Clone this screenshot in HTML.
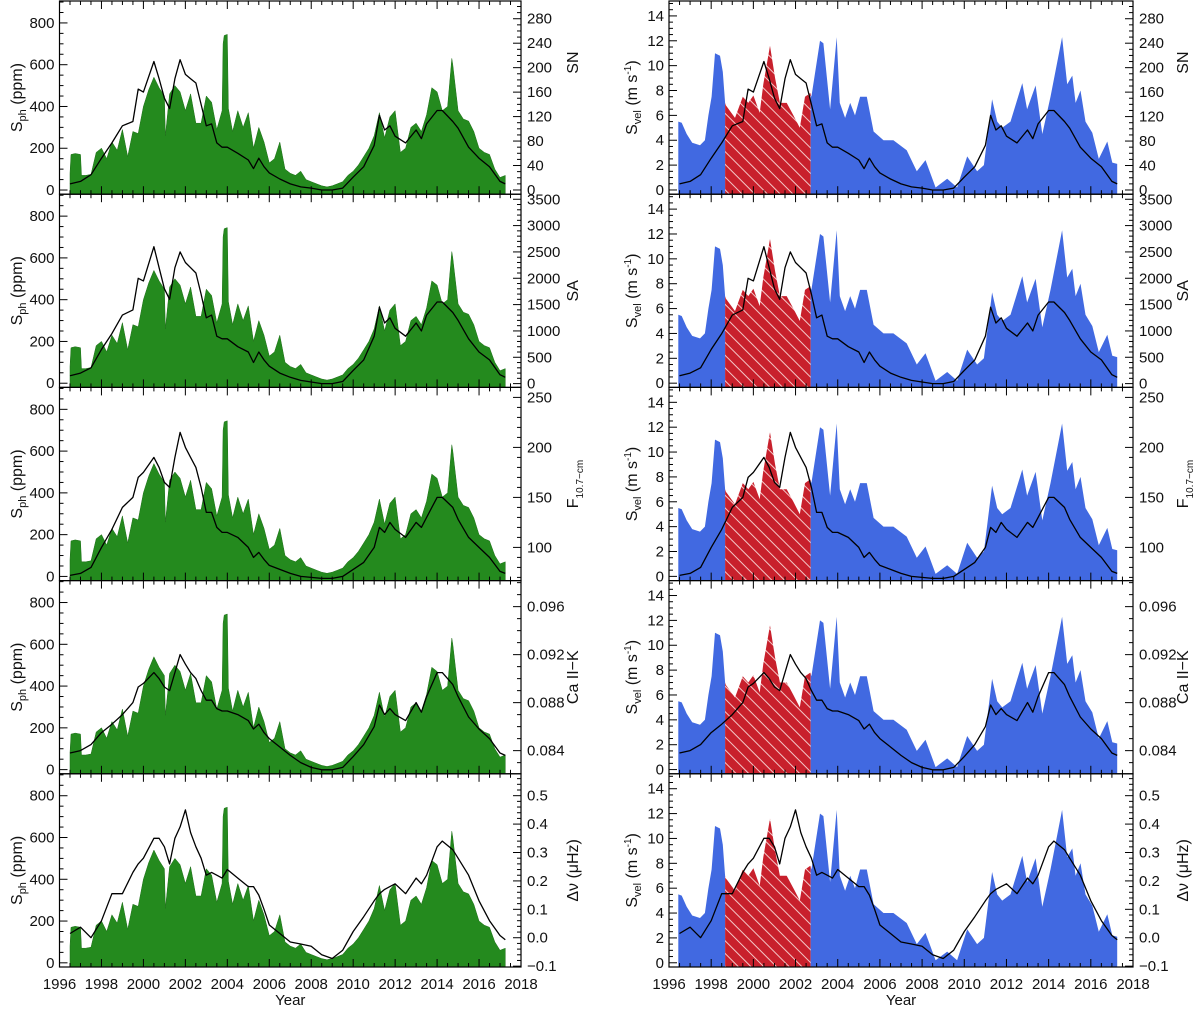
<!DOCTYPE html>
<html><head><meta charset="utf-8"><style>
html,body{margin:0;padding:0;background:#fff}
svg{display:block}
text{font-family:"Liberation Sans",sans-serif;fill:#111}
</style></head><body>
<svg id="fig" width="1200" height="1009" viewBox="0 0 1200 1009" xmlns="http://www.w3.org/2000/svg">
<defs>
<pattern id="hatch" patternUnits="userSpaceOnUse" width="9" height="9" patternTransform="rotate(-45)">
<rect width="9" height="9" fill="#c8202c"/>
<line x1="0" y1="0" x2="0" y2="9" stroke="#f4c8c8" stroke-width="2"/>
</pattern>
</defs>
</svg>
<script>
// ---- data ----
const greenYears=[1996.5,1996.55,1996.75,1997.0,1997.05,1997.25,1997.5,1997.75,1998.0,1998.25,1998.5,1998.75,1999.0,1999.25,1999.5,1999.75,2000.0,2000.25,2000.5,2000.75,2001.0,2001.05,2001.25,2001.5,2001.75,2002.0,2002.25,2002.5,2002.75,2003.0,2003.25,2003.5,2003.75,2003.8,2003.85,2004.0,2004.05,2004.25,2004.5,2004.75,2005.0,2005.25,2005.5,2005.75,2006.0,2006.25,2006.5,2006.75,2007.0,2007.25,2007.5,2007.75,2008.0,2008.25,2008.5,2008.75,2009.0,2009.25,2009.5,2009.75,2010.0,2010.25,2010.5,2010.75,2011.0,2011.25,2011.5,2011.75,2012.0,2012.25,2012.5,2012.75,2013.0,2013.25,2013.5,2013.75,2014.0,2014.25,2014.5,2014.7,2014.75,2015.0,2015.25,2015.5,2015.75,2016.0,2016.25,2016.5,2016.75,2017.0,2017.25];
const greenVals=[80,170,175,170,70,70,75,180,200,150,230,190,290,160,280,270,400,480,540,490,450,260,460,500,470,380,460,320,320,450,420,290,380,700,740,745,390,280,380,300,370,200,300,230,130,150,230,100,80,70,90,50,40,30,20,15,20,30,40,70,90,120,160,200,260,370,250,350,380,180,200,300,320,280,360,490,470,380,400,630,600,380,340,330,280,200,180,170,100,60,70];
const blueYears=[1996.44,1996.6,1996.84,1997.1,1997.47,1997.7,1997.87,1998.02,1998.18,1998.42,1998.55,1998.66,1998.7,1999.13,1999.5,1999.76,2000.0,2000.3,2000.47,2000.79,2001.03,2001.26,2001.58,2001.9,2002.2,2002.45,2002.7,2002.75,2003.16,2003.32,2003.64,2003.95,2004.1,2004.35,2004.59,2004.82,2005.06,2005.38,2005.7,2006.17,2006.64,2007.27,2007.75,2008.16,2008.64,2009.19,2009.66,2010.14,2010.61,2010.93,2011.32,2011.56,2011.8,2012.19,2012.75,2012.98,2013.38,2013.7,2014.09,2014.64,2014.88,2015.12,2015.28,2015.51,2015.75,2016.07,2016.38,2016.78,2017.02,2017.25];
const blueVals=[5.5,5.4,4.5,3.8,3.6,4.0,6.0,7.5,11.0,10.8,9.5,7.0,6.8,5.8,7.5,7.0,7.6,6.2,8.5,11.6,9.0,7.0,7.0,6.0,5.0,7.5,7.8,7.5,12.0,11.8,6.5,12.3,7.0,5.8,7.0,6.0,7.5,7.5,4.7,4.0,4.0,3.2,1.5,2.4,0.2,0.9,0.2,2.7,1.5,2.0,7.3,5.5,5.0,5.5,8.6,6.5,8.4,4.5,7.5,12.3,8.5,9.2,7.0,8.0,5.5,4.6,2.5,3.9,2.2,2.1];
const hatchStart=1998.66, hatchEnd=2002.72;
const proxyYears=[1996.5,1997,1997.5,1998,1998.5,1999,1999.5,1999.75,2000,2000.5,2000.75,2001,2001.25,2001.5,2001.75,2002,2002.25,2002.5,2002.75,2003,2003.25,2003.5,2003.75,2004,2004.5,2005,2005.25,2005.5,2005.75,2006,2006.5,2007,2007.5,2008,2008.5,2009,2009.5,2010,2010.5,2011,2011.25,2011.5,2011.75,2012,2012.5,2013,2013.25,2013.5,2014,2014.25,2014.75,2015,2015.5,2016,2016.5,2017,2017.25];
const snVals=[10,14,25,52,77,105,112,165,160,210,182,150,133,182,213,189,182,175,140,105,108,77,70,70,60,49,35,52,38,28,18,10,5,3,0,0,3,21,38,73,122,98,105,88,77,98,84,108,130,130,112,101,70,52,38,14,10];
const saVals=[150,200,300,650,950,1300,1400,2000,1950,2600,2200,1800,1600,2200,2500,2300,2200,2100,1700,1250,1300,900,850,850,700,600,400,600,450,330,200,120,60,30,0,0,40,250,450,900,1450,1150,1250,1050,900,1150,1000,1300,1550,1550,1350,1200,850,600,450,170,120];
const f107Vals=[72,74,80,100,118,140,150,170,175,190,180,165,160,190,215,200,190,180,160,135,135,120,115,115,110,100,90,95,88,82,78,74,71,70,69,69,71,78,85,100,120,115,125,118,110,125,120,130,150,150,140,128,110,100,90,76,74];
const caVals=[0.0838,0.0840,0.0845,0.0855,0.0862,0.0870,0.0880,0.0893,0.0896,0.0905,0.0900,0.0893,0.0890,0.0905,0.0920,0.0912,0.0905,0.0900,0.0890,0.0882,0.0882,0.0875,0.0873,0.0873,0.0870,0.0865,0.0858,0.0862,0.0855,0.0850,0.0843,0.0836,0.0830,0.0826,0.0824,0.0824,0.0826,0.0835,0.0845,0.0860,0.0878,0.0870,0.0875,0.0870,0.0865,0.0880,0.0872,0.0885,0.0905,0.0905,0.0895,0.0885,0.0868,0.0858,0.0850,0.0838,0.0836];
const dnuVals=[0.015,0.037,0.0,0.06,0.155,0.155,0.23,0.26,0.28,0.35,0.35,0.32,0.26,0.35,0.39,0.45,0.37,0.32,0.28,0.22,0.23,0.22,0.21,0.24,0.21,0.18,0.18,0.15,0.10,0.045,0.015,-0.015,-0.022,-0.03,-0.06,-0.073,-0.044,0.022,0.074,0.13,0.155,0.17,0.18,0.19,0.155,0.21,0.19,0.22,0.32,0.34,0.31,0.28,0.22,0.13,0.06,0.008,-0.007];
const xTickLabels=[1996,1998,2000,2002,2004,2006,2008,2010,2012,2014,2016,2018];
const leftTicks=[0,200,400,600,800];
const velTicks=[0,2,4,6,8,10,12,14];

const proxies=[
 {name:'sn',vals:snVals,lo:-6.9,hi:309,major:[0,40,80,120,160,200,240,280],minor:10,fmt:v=>String(v),title:'SN'},
 {name:'sa',vals:saVals,lo:-72,hi:3596,major:[0,500,1000,1500,2000,2500,3000,3500],minor:100,fmt:v=>String(v),title:'SA'},
 {name:'f107',vals:f107Vals,lo:66.8,hi:260,major:[100,150,200,250],minor:10,fmt:v=>String(v),title:'F107'},
 {name:'caiik',vals:caVals,lo:0.08207,hi:0.09817,major:[0.084,0.088,0.092,0.096],minor:0.001,fmt:v=>v.toFixed(3),title:'Ca II\u2212K'},
 {name:'delta-nu',vals:dnuVals,lo:-0.103,hi:0.577,major:[-0.1,0,0.1,0.2,0.3,0.4,0.5],minor:0.02,fmt:v=>(v<0?'\u2212':'')+Math.abs(v).toFixed(1),title:'DNU'}
];

const NS='http://www.w3.org/2000/svg';
const svg=document.getElementById('fig');
function mk(tag,attrs,parent){const e=document.createElementNS(NS,tag);for(const k in attrs)e.setAttribute(k,attrs[k]);(parent||svg).appendChild(e);return e;}

const cols=[{x0:59.5,x1:521,side:'left'},{x0:669,x1:1133,side:'right'}];
const PH=193.2;
function xs(col,y){return col.x0+(y-1996)/22*(col.x1-col.x0);}
function lin(v,lo,hi,top){return top+PH-(v-lo)/(hi-lo)*PH;}

function areaPath(col,top,years,vals,lo,hi,from,to){
  let pts=[];
  for(let i=0;i<years.length;i++){ if(years[i]>=from-1e-9&&years[i]<=to+1e-9) pts.push([years[i],vals[i]]);}
  function interp(t){for(let i=0;i<years.length-1;i++){if(t>=years[i]&&t<=years[i+1]){const f=(t-years[i])/(years[i+1]-years[i]);return vals[i]+f*(vals[i+1]-vals[i]);}}return vals[0];}
  if(from>years[0]&&(pts.length===0||pts[0][0]>from)) pts.unshift([from,interp(from)]);
  if(to<years[years.length-1]&&(pts.length===0||pts[pts.length-1][0]<to)) pts.push([to,interp(to)]);
  const base=top+PH;
  let d='M'+xs(col,pts[0][0]).toFixed(1)+','+base;
  for(const p of pts) d+='L'+xs(col,p[0]).toFixed(1)+','+lin(p[1],lo,hi,top).toFixed(1);
  d+='L'+xs(col,pts[pts.length-1][0]).toFixed(1)+','+base+'Z';
  return d;
}

for(let c=0;c<2;c++){
  const col=cols[c];
  for(let p=0;p<5;p++){
    const top=1+p*PH;
    const pr=proxies[p];
    const g=mk('g',{});
    
    
    const cid='clip'+c+p;
    const cp=mk('clipPath',{id:cid},g);
    mk('rect',{x:col.x0,y:top,width:col.x1-col.x0,height:PH},cp);
    if(c===0){
      const a=mk('path',{d:areaPath(col,top,greenYears,greenVals,-20,905,greenYears[0],greenYears[greenYears.length-1]),fill:'#248a1e',stroke:'#1d6e18','stroke-width':0.5,'clip-path':'url(#'+cid+')'},g);
      
      
    } else {
      const lo=-0.34,hi=15.2;
      const a1=mk('path',{d:areaPath(col,top,blueYears,blueVals,lo,hi,blueYears[0],hatchStart),fill:'#4169e1','clip-path':'url(#'+cid+')'},g);
      
      
      const a2=mk('path',{d:areaPath(col,top,blueYears,blueVals,lo,hi,hatchStart,hatchEnd),fill:'url(#hatch)','clip-path':'url(#'+cid+')'},g);
      
      
      const a3=mk('path',{d:areaPath(col,top,blueYears,blueVals,lo,hi,hatchEnd,blueYears[blueYears.length-1]),fill:'#4169e1','clip-path':'url(#'+cid+')'},g);
      
      
    }
    let d='';
    for(let i=0;i<proxyYears.length;i++){d+=(i?'L':'M')+xs(col,proxyYears[i]).toFixed(1)+','+lin(pr.vals[i],pr.lo,pr.hi,top).toFixed(1);}
    const ln=mk('path',{d:d,fill:'none',stroke:'#000','stroke-width':1.3,'stroke-linejoin':'round','clip-path':'url(#'+cid+')'},g);
    
    
    const fr=mk('rect',{x:col.x0,y:top,width:col.x1-col.x0,height:PH,fill:'none',stroke:'#000','stroke-width':1.2},g);
    
    
    for(let yr=1996;yr<=2018.001;yr+=0.5){
      const X=xs(col,yr);const maj=Math.abs(yr/2-Math.round(yr/2))<1e-6;const L=maj?8:4;
      mk('line',{x1:X,y1:top,x2:X,y2:top+L,stroke:'#000','stroke-width':1},g);
      mk('line',{x1:X,y1:top+PH,x2:X,y2:top+PH-L,stroke:'#000','stroke-width':1},g);
    }
    if(c===0){
      for(let v=-0;v<=900;v+=50){const Y=lin(v,-20,905,top);const maj=v%200===0;mk('line',{x1:col.x0,y1:Y,x2:col.x0+(maj?8:4),y2:Y,stroke:'#000'},g);}
      for(const v of leftTicks){const t=mk('text',{x:col.x0-5,y:lin(v,-20,905,top)+5,'text-anchor':'end','font-size':15},g);t.textContent=v;}
    } else {
      for(let v=0;v<=15.001;v+=0.5){const Y=lin(v,-0.34,15.2,top);const maj=Math.abs(v%2)<1e-6;mk('line',{x1:col.x0,y1:Y,x2:col.x0+(maj?8:4),y2:Y,stroke:'#000'},g);}
      for(const v of velTicks){const t=mk('text',{x:col.x0-5,y:lin(v,-0.34,15.2,top)+5,'text-anchor':'end','font-size':15},g);t.textContent=v;}
    }
    const start=Math.ceil(pr.lo/pr.minor);
    for(let k=start;k*pr.minor<=pr.hi;k++){const v=k*pr.minor;const Y=lin(v,pr.lo,pr.hi,top);const maj=pr.major.some(m=>Math.abs(m-v)<pr.minor/10);mk('line',{x1:col.x1,y1:Y,x2:col.x1-(maj?8:4),y2:Y,stroke:'#000'},g);}
    for(const v of pr.major){const t=mk('text',{x:col.x1+6,y:lin(v,pr.lo,pr.hi,top)+5,'font-size':15},g);t.textContent=pr.fmt(v);}
    const lx=c===0?22:637, ly=top+PH/2;
    const lt=mk('text',{x:lx,y:ly,'text-anchor':'middle','font-size':16,transform:'rotate(-90 '+lx+' '+ly+')'},g);
    
    
    if(c===0){lt.innerHTML='S<tspan font-size="11" dy="4">ph</tspan><tspan dy="-4"> (ppm)</tspan>';}
    else{lt.innerHTML='S<tspan font-size="11" dy="4">vel</tspan><tspan dy="-4"> (m s</tspan><tspan font-size="10" dy="-6">-1</tspan><tspan dy="6">)</tspan>';}
    const rx=c===0?578:1188, ry=top+PH/2-(p===0?35:0);
    const rt=mk('text',{x:rx,y:ry,'text-anchor':'middle','font-size':16,transform:'rotate(-90 '+rx+' '+ry+')'},g);
    
    
    if(pr.title==='F107'){rt.innerHTML='F<tspan font-size="10" dy="5">10.7\u2212cm</tspan>';}
    else if(pr.title==='DNU'){rt.textContent='\u0394\u03bd  (\u03bcHz)';}
    else rt.textContent=pr.title;
  }
  for(const yr of xTickLabels){const t=mk('text',{x:xs(col,yr),y:989,'text-anchor':'middle','font-size':15});t.textContent=yr;}
  const xt=mk('text',{x:(col.x0+col.x1)/2,y:1005,'text-anchor':'middle','font-size':15});
  xt.textContent='Year';
  
  
}
</script>
</body></html>
